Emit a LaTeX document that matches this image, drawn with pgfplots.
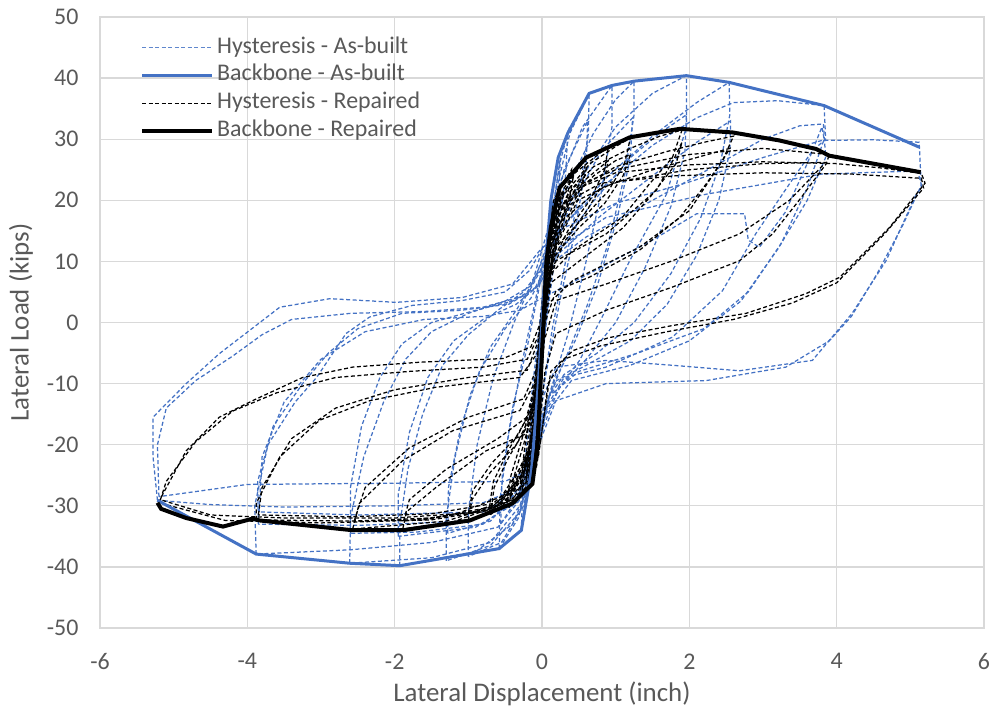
\documentclass[border=0pt]{standalone}
\usepackage{fontspec}
\setmainfont{Carlito}
\usepackage{pgfplots}
\pgfplotsset{compat=1.18}
\definecolor{xlblue}{RGB}{68,114,196}
\definecolor{txtgray}{RGB}{89,89,89}
\definecolor{gridgray}{RGB}{217,217,217}
\tikzset{
  hysA/.style={color=xlblue, line width=1.25bp, dash pattern=on 4bp off 2.5bp},
  hysR/.style={color=black, line width=1.25bp, dash pattern=on 4bp off 2.5bp},
  bbA/.style={color=xlblue, line width=3bp},
  bbR/.style={color=black, line width=4bp},
}
\begin{document}
\begin{tikzpicture}
\begin{axis}[
  scale only axis, width=884bp, height=611bp,
  xmin=-6, xmax=6, ymin=-50, ymax=50,
  xtick distance=2, ytick distance=10,
  grid=major, major grid style={gridgray, line width=1.3bp},
  axis line style={gridgray, line width=1.3bp},
  major tick length=0pt,
  /pgf/number format/assume math mode=true,
  ticklabel style={font=\fontsize{24}{28}\selectfont, text=txtgray},
  xticklabel style={yshift=-22bp},
  yticklabel style={xshift=-18bp},
  xlabel={Lateral Displacement (inch)},
  ylabel={Lateral Load (kips)},
  label style={font=\fontsize{27}{32}\selectfont, text=txtgray},
  xlabel style={yshift=-5bp},
  ylabel style={yshift=7bp},
  legend cell align=left,
  legend style={at={(rel axis cs:0,1)}, anchor=north west, xshift=40bp, yshift=-20bp,
    draw=none, fill=none, inner sep=0pt,
    font=\fontsize{24}{28}\selectfont, text=txtgray,
    nodes={inner xsep=3bp, inner ysep=0bp, text height=16bp, text depth=5bp},
    row sep=6.7bp},
  legend image code/.code={\draw[#1] (0bp,0bp) -- (70bp,0bp);},
]
\addlegendimage{color=xlblue!85, line width=1.1bp, dash pattern=on 4bp off 2.5bp}
\addlegendentry{Hysteresis - As-built}
\addlegendimage{color=xlblue, line width=3bp}
\addlegendentry{Backbone - As-built}
\addlegendimage{color=black, line width=1.1bp, dash pattern=on 4bp off 2.5bp}
\addlegendentry{Hysteresis - Repaired}
\addlegendimage{color=black, line width=4bp}
\addlegendentry{Backbone - Repaired}

% ---- as-built hysteresis
\addplot[hysA, forget plot] coordinates {(-0.12,-22) (-0.08,-12) (-0.02,-2) (0.04,8) (0.15,20) (0.1,12) (0.02,2) (-0.04,-8) (-0.12,-22)};
\addplot[hysA, forget plot] coordinates {(-0.2,-28) (-0.16,-18) (-0.07,-6) (0.03,6) (0.12,16) (0.25,27) (0.22,19) (0.12,8) (0.02,-4) (-0.08,-16) (-0.2,-28)};
\addplot[hysA, forget plot] coordinates {(-0.28,-34) (-0.26,-26) (-0.16,-14) (-0.05,-2) (0.05,9) (0.14,18) (0.24,26) (0.35,31) (0.32,24) (0.2,13) (0.08,2) (-0.04,-10) (-0.14,-22) (-0.28,-34)};
\addplot[hysA, forget plot] coordinates {(-0.58,-37) (-0.57,-29) (-0.45,-18) (-0.28,-7) (-0.1,3) (0.05,12) (0.2,22) (0.38,31) (0.64,37.5) (0.63,31) (0.5,21) (0.32,10) (0.14,-1) (0,-12) (-0.14,-23) (-0.32,-32) (-0.58,-37)};
\addplot[hysA, forget plot] coordinates {(-0.56,-33) (-0.54,-25) (-0.4,-14) (-0.2,-4) (-0.05,5) (0.1,14) (0.3,25) (0.62,33) (0.6,26) (0.45,15) (0.25,4) (0.06,-8) (-0.1,-19) (-0.3,-28) (-0.56,-33)};
\addplot[hysA, forget plot] coordinates {(-1.0,-38.3) (-1.0,-31) (-0.88,-20) (-0.66,-9) (-0.38,0) (-0.12,7) (0.05,14) (0.25,23) (0.55,32) (0.95,38.8) (0.95,32) (0.8,21) (0.58,9) (0.35,-2) (0.12,-11) (-0.05,-20) (-0.25,-30) (-0.55,-36) (-1.0,-38.3)};
\addplot[hysA, forget plot] coordinates {(-1.3,-39) (-1.3,-32) (-1.18,-22) (-0.98,-12) (-0.7,-4) (-0.35,2) (-0.1,7) (0.05,12) (0.3,21) (0.7,31) (1.0,36.5) (1.25,39.5) (1.25,34) (1.12,24) (0.9,13) (0.62,3) (0.35,-5) (0.1,-12) (-0.08,-22) (-0.3,-31) (-0.7,-36.5) (-1.3,-39)};
\addplot[hysA, forget plot] coordinates {(-1.28,-34.5) (-1.27,-27) (-1.1,-17) (-0.85,-8) (-0.5,-1) (-0.15,4) (0.05,9) (0.35,18) (0.8,28) (1.23,33.5) (1.2,27) (1.02,17) (0.75,6) (0.45,-3) (0.15,-10) (-0.05,-18) (-0.3,-27) (-0.7,-32.5) (-1.28,-34.5)};
\addplot[hysA, forget plot] coordinates {(-1.93,-39.8) (-1.93,-33) (-1.82,-24) (-1.62,-15) (-1.35,-7) (-1.0,-2) (-0.6,2) (-0.25,5) (0,9) (0.2,15) (0.55,24) (1.0,32) (1.5,37.5) (1.96,40.4) (1.96,39.6) (1.96,32) (1.69,21) (1.19,10.1) (0.82,1) (0.51,-6.2) (0.22,-11) (0.02,-17) (-0.15,-26) (-0.4,-33) (-0.9,-37.5) (-1.93,-39.8)};
\addplot[hysA, forget plot] coordinates {(-1.95,-35) (-1.95,-28) (-1.8,-18) (-1.55,-9) (-1.2,-3) (-0.8,0.5) (-0.35,3) (-0.05,6) (0.2,11) (0.64,19) (1.2,27) (1.6,31) (1.96,34) (1.94,28) (1.75,19) (1.4,9) (1.0,0) (0.6,-6) (0.25,-10.5) (0.03,-15) (-0.12,-23) (-0.35,-29.5) (-0.9,-33.5) (-1.95,-35)};
\addplot[hysA, forget plot] coordinates {(-2.61,-39.4) (-2.6,-32) (-2.42,-22) (-2.15,-13) (-1.85,-6) (-1.5,-1.5) (-1.0,1.5) (-0.5,3.5) (-0.15,6) (0,10) (0.3,16) (0.9,24) (1.5,30.5) (2.1,36) (2.54,39.3) (2.55,34) (2.42,26) (2.15,17) (1.75,8) (1.25,0) (0.75,-5) (0.3,-8.5) (0.05,-13) (-0.1,-22) (-0.3,-30) (-0.7,-36) (-1.5,-38.5) (-2.61,-39.4)};
\addplot[hysA, forget plot] coordinates {(-2.6,-34.5) (-2.6,-27) (-2.45,-17) (-2.2,-9) (-1.9,-3.5) (-1.5,0) (-0.9,2) (-0.4,3.5) (-0.05,6) (0.2,11) (0.8,17.5) (1.5,24) (2.1,29.5) (2.56,33) (2.55,28) (2.4,20) (2.1,11) (1.7,3) (1.2,-3) (0.6,-7) (0.2,-9.5) (0.02,-14) (-0.12,-22) (-0.35,-29) (-0.8,-33) (-1.7,-34.3) (-2.6,-34.5)};
\addplot[hysA, forget plot] coordinates {(-3.88,-37.9) (-3.9,-30) (-3.72,-20) (-3.35,-13) (-3.06,-9) (-2.66,-1.8) (-2.34,0.9) (-1.76,2.8) (-1.08,3.6) (-0.5,5) (-0.17,8.5) (0,12) (0.3,16) (0.9,23) (1.5,29) (2.1,33.5) (2.6,36) (3.2,36.3) (3.83,35.5) (3.85,30) (3.67,28.1) (3.36,22.7) (2.9,14.5) (2.45,5.2) (1.77,-2.4) (0.87,-7.3) (0.3,-9) (0.05,-14) (-0.1,-22) (-0.3,-29) (-0.6,-33.5) (-1.5,-36) (-2.6,-37.2) (-3.88,-37.9)};
\addplot[hysA, forget plot] coordinates {(-3.85,-33) (-3.86,-26) (-3.65,-17) (-3.25,-10) (-2.9,-5) (-2.5,-1) (-1.9,1.5) (-1.1,2) (-0.45,3) (-0.1,5.5) (0.05,9) (0.6,14) (1.5,20) (2.4,26) (3.0,30) (3.5,32.2) (3.82,32.5) (3.85,27) (3.6,20) (3.2,12) (2.7,3.5) (2.0,-3) (1.2,-7) (0.4,-9.5) (0.05,-15) (-0.15,-24) (-0.4,-30) (-1.0,-32.5) (-2.5,-33.2) (-3.85,-33)};
\addplot[hysA, forget plot] coordinates {(-3.84,-31) (-3.8,-22) (-3.5,-13) (-3.0,-6) (-2.4,-1.5) (-1.6,0.5) (-0.8,1) (-0.3,2) (0,4) (0.64,8) (1.5,13.5) (2.1,17.8) (2.75,17.8) (2.8,13.5) (2.95,12.3) (3.3,18) (3.6,26) (3.8,32) (3.83,30) (3.6,22) (3.25,13) (2.8,5) (2.2,-1) (1.3,-5) (0.5,-8) (0.1,-12) (-0.05,-20) (-0.25,-27.5) (-0.8,-31) (-2.5,-31.5) (-3.84,-31)};
\addplot[hysA, forget plot] coordinates {(-5.22,-29.1) (-5.28,-22) (-5.28,-15.5) (-5.15,-13.9) (-4.83,-10) (-4.38,-5.1) (-3.97,-1.3) (-3.56,2.5) (-2.88,3.9) (-1.98,3.3) (-1.08,4.1) (-0.4,6.3) (-0.03,11.8) (0.3,15.5) (1.0,19.5) (2.0,23) (3.0,27) (3.8,29.8) (4.5,29.9) (5.12,29.5) (5.15,22) (5.08,21) (4.67,10.1) (4.21,1.5) (3.67,-6.2) (2.68,-7.9) (1.77,-7) (0.87,-6.2) (0.19,-7.3) (0.02,-12) (-0.12,-20) (-0.3,-27) (-0.8,-29.5) (-2,-30) (-3.5,-30.2) (-4.5,-29.8) (-5.22,-29.1)};
\addplot[hysA, forget plot] coordinates {(-5.2,-28.5) (-5.22,-20) (-5.1,-14) (-4.7,-9.5) (-4.2,-5.5) (-3.8,-2) (-3.4,0.5) (-2.6,1.5) (-1.6,1.8) (-0.8,2.5) (-0.2,4.5) (0,9) (0.19,12) (0.87,17.2) (2.23,21) (3.8,24.3) (5.1,24.8) (5.15,22.5) (4.9,16) (4.55,8) (4.2,1) (3.9,-3) (3.31,-7.3) (2.23,-9.5) (0.87,-10) (0.19,-12.8) (0.02,-18) (-0.15,-24) (-0.5,-26) (-2,-26.3) (-4,-26.5) (-5.2,-28.5)};

% ---- repaired hysteresis
\addplot[hysR, forget plot] coordinates {(-0.06,-16) (-0.03,-8) (0,0) (0.03,7) (0.08,14) (0.05,7) (0.01,0) (-0.02,-8) (-0.06,-16)};
\addplot[hysR, forget plot] coordinates {(-0.1,-22) (-0.06,-12) (0,0) (0.05,10) (0.12,18) (0.08,10) (0.02,0) (-0.03,-10) (-0.1,-22)};
\addplot[hysR, forget plot] coordinates {(-0.14,-24) (-0.1,-15) (-0.04,-5) (0.01,4) (0.06,12) (0.14,19) (0.1,13) (0.04,5) (-0.01,-5) (-0.06,-14) (-0.14,-24)};
\addplot[hysR, forget plot] coordinates {(-0.18,-26) (-0.14,-18) (-0.06,-8) (0.02,4) (0.08,14) (0.16,20) (0.25,22) (0.2,16) (0.1,8) (0.02,-2) (-0.06,-12) (-0.18,-26)};
\addplot[hysR, forget plot] coordinates {(-0.22,-26.5) (-0.17,-20) (-0.09,-11) (-0.01,-1) (0.06,10) (0.15,18) (0.26,21) (0.2,15) (0.09,6) (0,-4) (-0.08,-14) (-0.22,-26.5)};
\addplot[hysR, forget plot] coordinates {(-0.28,-28.5) (-0.22,-22) (-0.12,-14) (-0.03,-4) (0.04,6) (0.12,16) (0.25,22) (0.4,25) (0.34,20) (0.2,14) (0.06,5) (-0.03,-8) (-0.12,-19) (-0.28,-28.5)};
\addplot[hysR, forget plot] coordinates {(-0.3,-27.5) (-0.24,-21) (-0.13,-13) (-0.04,-3) (0.03,7) (0.13,15) (0.27,21) (0.42,23.5) (0.35,19) (0.2,13) (0.05,4) (-0.04,-9) (-0.14,-19) (-0.3,-27.5)};
\addplot[hysR, forget plot] coordinates {(-0.45,-30.3) (-0.4,-26) (-0.25,-20) (-0.1,-13) (-0.02,-4) (0.04,6) (0.12,15) (0.3,22) (0.6,27) (0.55,23) (0.38,18) (0.16,12) (0.04,3) (-0.04,-10) (-0.15,-20) (-0.28,-26.5) (-0.45,-30.3)};
\addplot[hysR, forget plot] coordinates {(-0.48,-29.5) (-0.42,-25) (-0.27,-19) (-0.12,-12) (-0.03,-3) (0.03,7) (0.13,14) (0.33,20.5) (0.6,25) (0.52,21) (0.35,16.5) (0.14,11) (0.03,2) (-0.05,-11) (-0.16,-20) (-0.3,-26) (-0.48,-29.5)};
\addplot[hysR, forget plot] coordinates {(-0.7,-31.5) (-0.65,-27) (-0.45,-22) (-0.2,-17) (-0.06,-10) (0.02,0) (0.07,10) (0.2,19) (0.45,24.5) (0.9,28.8) (0.85,25) (0.65,20) (0.35,15) (0.1,9) (0.02,0) (-0.05,-12) (-0.18,-22) (-0.4,-28) (-0.7,-31.5)};
\addplot[hysR, forget plot] coordinates {(-0.72,-30.5) (-0.66,-26) (-0.46,-21) (-0.22,-16) (-0.07,-9) (0.01,1) (0.06,9) (0.2,17) (0.5,22.5) (0.9,26.5) (0.84,23) (0.62,18.5) (0.32,13.5) (0.09,7.5) (0.01,-1) (-0.06,-13) (-0.2,-22) (-0.42,-27.5) (-0.72,-30.5)};
\addplot[hysR, forget plot] coordinates {(-1.0,-32.4) (-0.95,-29) (-0.7,-24.5) (-0.35,-20) (-0.1,-14) (-0.02,-5) (0.04,6) (0.12,15) (0.3,21) (0.65,26) (1.0,28.8) (1.2,30.2) (1.12,26) (0.9,21.5) (0.55,17) (0.2,12.5) (0.05,6) (-0.03,-8) (-0.15,-20) (-0.4,-27.5) (-0.7,-31) (-1.0,-32.4)};
\addplot[hysR, forget plot] coordinates {(-1.0,-31.3) (-0.94,-27.5) (-0.68,-23) (-0.33,-18.5) (-0.1,-13) (-0.02,-4) (0.04,5) (0.14,13) (0.35,19.5) (0.7,24) (1.0,26.5) (1.2,27.5) (1.1,24) (0.85,19.5) (0.5,15.5) (0.18,11) (0.04,4) (-0.04,-9) (-0.16,-20) (-0.42,-27) (-0.7,-30) (-1.0,-31.3)};
\addplot[hysR, forget plot] coordinates {(-1.89,-33.8) (-1.84,-31) (-1.44,-27) (-0.76,-21) (-0.21,-18.2) (-0.07,-12) (0,-2) (0.05,7) (0.15,15) (0.35,21) (0.7,25.5) (1.2,28.5) (1.6,30.5) (1.9,31.5) (1.77,27) (1.46,22.7) (1.09,17.2) (0.42,11.8) (0.12,8) (0.02,0) (-0.06,-14) (-0.22,-24) (-0.6,-30) (-1.2,-32.6) (-1.89,-33.8)};
\addplot[hysR, forget plot] coordinates {(-1.88,-32.5) (-1.8,-29) (-1.3,-24) (-0.6,-19) (-0.15,-15) (-0.04,-8) (0.03,3) (0.19,10.1) (0.87,14.5) (1.55,21.6) (1.8,27) (1.9,29.5) (1.82,26) (1.5,21) (1.1,15.5) (0.5,10) (0.12,6.5) (0.02,-1) (-0.05,-12) (-0.2,-22) (-0.55,-28.5) (-1.2,-31.5) (-1.88,-32.5)};
\addplot[hysR, forget plot] coordinates {(-2.57,-33.8) (-2.48,-29.6) (-1.89,-22.6) (-1.21,-17.7) (-0.3,-14.4) (-0.06,-9) (0.02,0) (0.07,9) (0.2,16) (0.5,22) (1.0,25.5) (1.7,28) (2.2,29.5) (2.6,30.5) (2.45,26.5) (2.23,22.7) (1.87,17.2) (1.32,11.8) (0.64,7.4) (0.19,5.2) (0.04,0) (-0.04,-12) (-0.18,-23) (-0.5,-29.5) (-1.3,-32.5) (-2.57,-33.8)};
\addplot[hysR, forget plot] coordinates {(-2.55,-32.5) (-2.4,-27) (-1.8,-20.5) (-1.0,-15.5) (-0.25,-12.5) (-0.05,-7) (0.03,2) (0.1,10) (0.3,17) (0.8,22) (1.5,25) (2.1,27) (2.55,28.5) (2.45,26.5) (2.0,18.3) (1.32,12.3) (0.42,6.9) (0.08,3) (0,-3) (-0.06,-14) (-0.25,-25) (-0.7,-30.5) (-1.6,-32.3) (-2.55,-32.5)};
\addplot[hysR, forget plot] coordinates {(-3.88,-32.3) (-3.88,-29.6) (-3.56,-22) (-3.02,-16) (-2.34,-12.8) (-1.44,-10.6) (-0.3,-9) (-0.06,-5) (0.02,3) (0.07,11) (0.2,18) (0.5,22.5) (1.0,25) (2.0,27.5) (3.0,28.5) (3.9,27.5) (3.86,26) (3.49,20) (3.13,14.5) (2.68,10.1) (1.77,5.8) (0.87,2) (0.19,-1.8) (0.04,-8) (-0.04,-18) (-0.2,-26) (-0.6,-30) (-1.5,-32) (-2.6,-32.5) (-3.88,-32.3)};
\addplot[hysR, forget plot] coordinates {(-3.85,-31.5) (-3.8,-27) (-3.4,-19) (-2.8,-14) (-2.0,-11) (-1.0,-9) (-0.2,-7.8) (-0.05,-3) (0.03,6) (0.15,14) (0.4,19.5) (1.0,23) (2.0,25) (3.0,26) (3.85,26.2) (3.36,20) (2.68,14.5) (1.77,10.1) (0.87,6.3) (0.19,3.6) (0.03,-3) (-0.04,-15) (-0.2,-25) (-0.6,-29.5) (-1.5,-31.3) (-2.6,-31.8) (-3.85,-31.5)};
\addplot[hysR, forget plot] coordinates {(-5.2,-29.5) (-5.17,-28.6) (-4.83,-21) (-4.38,-15.5) (-3.93,-12.8) (-3.25,-9) (-2.57,-7.3) (-1.66,-6.5) (-0.53,-5.9) (-0.15,-4) (-0.02,0) (0.05,6) (0.1,13) (0.25,19) (0.5,22) (1.0,24.5) (2.0,25.8) (3.0,26.3) (4.0,26) (4.6,25.3) (5.15,24.4) (5.2,22.8) (4.72,15.6) (4.04,7.4) (3.58,4.7) (2.77,1.5) (1.77,-0.5) (0.9,-2.5) (0.42,-4.6) (0.12,-8) (0.03,-15) (-0.05,-22) (-0.2,-27) (-0.6,-30.5) (-1.5,-32.3) (-3,-32.8) (-4.3,-32.4) (-5.2,-29.5)};
\addplot[hysR, forget plot] coordinates {(-5.18,-29) (-5.1,-26) (-4.7,-19.5) (-4.2,-14.5) (-3.6,-11.5) (-2.8,-9) (-1.8,-8) (-0.8,-7.3) (-0.2,-6) (-0.04,-2) (0.03,5) (0.12,14) (0.3,19.5) (0.8,22.8) (1.8,24) (3.0,24.5) (4.2,24.3) (5.15,23.6) (5.18,22) (4.65,14.5) (4.0,6.5) (3.4,3.2) (2.6,0.5) (1.7,-1.5) (0.8,-3.8) (0.3,-6) (0.08,-10) (0.01,-17) (-0.08,-24) (-0.3,-28.5) (-0.8,-31) (-2,-32) (-3.5,-32) (-4.5,-31.5) (-5.18,-29)};

% ---- backbones
\addplot[bbA, forget plot] coordinates {(-5.22,-29.1) (-3.88,-37.9) (-2.61,-39.4) (-1.93,-39.8) (-0.58,-37) (-0.28,-34) (-0.14,-24) (-0.05,-10) (0,0) (0.05,10) (0.12,20) (0.22,27) (0.35,31) (0.64,37.5) (0.95,38.8) (1.25,39.5) (1.96,40.4) (2.54,39.3) (3.83,35.5) (5.12,28.7)};
\addplot[bbR, forget plot] coordinates {(-5.22,-29.5) (-5.17,-30.5) (-4.83,-32) (-4.33,-33.4) (-3.93,-32.1) (-3.83,-32.4) (-2.57,-34) (-1.89,-34) (-0.98,-32.4) (-0.4,-29.6) (-0.13,-26.4) (-0.06,-20) (-0.02,-10) (0.02,0) (0.06,10) (0.12,15.6) (0.24,22.1) (0.6,27) (1.19,30.3) (1.87,31.7) (2.59,31.1) (3.22,29.8) (3.72,28.4) (3.9,27.3) (5.14,24.6)};
\end{axis}
\pgfresetboundingbox
\useasboundingbox ([xshift=-100bp,yshift=-85bp]current axis.south west) rectangle ([xshift=8bp,yshift=17bp]current axis.north east);
\end{tikzpicture}
\end{document}
